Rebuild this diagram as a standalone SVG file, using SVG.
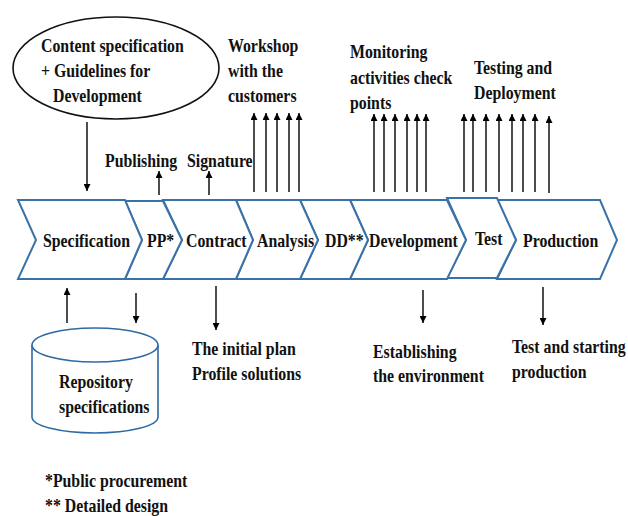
<svg xmlns="http://www.w3.org/2000/svg" width="628" height="516" viewBox="0 0 628 516">
<defs>
<marker id="ah" viewBox="0 0 10 10" refX="10" refY="5" markerWidth="7" markerHeight="7" markerUnits="userSpaceOnUse" orient="auto">
<path d="M0,0 L10,5 L0,10 z" fill="#000"/>
</marker>
<style>
text{font-family:"Liberation Serif","Times New Roman",serif;font-weight:bold;font-size:18px;fill:#111;transform-box:fill-box;transform-origin:0% 50%;transform:scaleX(0.88)}
.chev{fill:#fff;stroke:#3a72a8;stroke-width:2;stroke-linejoin:miter}
.shape{fill:#fff;stroke:#2f6aa3;stroke-width:1.6}
.oval{fill:#fff;stroke:#111;stroke-width:1.6}
.arr{stroke:#000;stroke-width:1.4;fill:none;marker-end:url(#ah)}
</style>
</defs>
<rect width="628" height="516" fill="#fff"/>

<g id="content-spec">
<ellipse class="oval" cx="116" cy="68" rx="103" ry="51"/>
<text x="41" y="52">Content specification</text>
<text x="41" y="77">+ Guidelines for</text>
<text x="53" y="102">Development</text>
</g>

<g id="workshop-label">
<text x="228" y="52">Workshop</text>
<text x="228" y="77">with the</text>
<text x="228" y="102">customers</text>
</g>

<g id="monitoring-label">
<text x="350" y="58">Monitoring</text>
<text x="350" y="84">activities check</text>
<text x="350" y="109">points</text>
</g>

<g id="testing-label">
<text x="474" y="74">Testing and</text>
<text x="474" y="99">Deployment</text>
</g>

<g id="publishing-label"><text x="105" y="167">Publishing</text></g>
<g id="signature-label"><text x="187" y="167">Signature</text></g>

<g id="chevrons">
<g id="production"><path class="chev" d="M497,200 L600,200 L617,240 L600,279 L497,279 L516,240 Z"/><text x="523" y="247">Production</text></g>
<g id="test"><path class="chev" d="M447,198 L497,198 L516,240 L497,278 L447,278 L466,240 Z" stroke-width="2.5"/><text x="475" y="245">Test</text></g>
<g id="development"><path class="chev" d="M350,200 L447,200 L466,240 L447,279 L350,279 L368,240 Z"/><text x="369" y="247">Development</text></g>
<g id="dd"><path class="chev" d="M300,200 L350,200 L368,240 L350,279 L300,279 L318,240 Z" stroke-width="2.5"/><text x="325" y="247">DD**</text></g>
<g id="analysis"><path class="chev" d="M236,200 L300,200 L318,240 L300,279 L236,279 L253,240 Z"/><text x="257" y="247">Analysis</text></g>
<g id="contract"><path class="chev" d="M163,200 L236,200 L253,240 L236,279 L163,279 L182,240 Z"/><text x="186" y="247">Contract</text></g>
<g id="pp"><path class="chev" d="M125,201 L163,201 L182,240 L163,279 L125,279 L142,240 Z"/><text x="147" y="247">PP*</text></g>
<g id="specification"><path class="chev" d="M18,200 L125,200 L142,240 L125,279 L18,279 L36,240 Z"/><text x="43" y="247">Specification</text></g>
</g>

<g id="repository">
<path class="shape" d="M32,345 L32,417 A63,16 0 0 0 158,417 L158,345"/>
<ellipse class="shape" cx="95" cy="345" rx="63" ry="17"/>
<text x="59" y="388">Repository</text>
<text x="59" y="413">specifications</text>
</g>

<g id="initial-plan-label">
<text x="192" y="355">The initial plan</text>
<text x="192" y="380">Profile solutions</text>
</g>

<g id="establishing-label">
<text x="373" y="358">Establishing</text>
<text x="373" y="382">the environment</text>
</g>

<g id="starting-production-label">
<text x="512" y="353">Test and starting</text>
<text x="512" y="378">production</text>
</g>

<g id="footnotes">
<text x="45" y="487">*Public procurement</text>
<text x="45" y="512">** Detailed design</text>
</g>

<g id="connectors">
<line class="arr" x1="87" y1="122" x2="87" y2="191"/>
<line class="arr" x1="159" y1="195" x2="159" y2="171"/>
<line class="arr" x1="209" y1="195" x2="209" y2="171"/>
<line class="arr" x1="254" y1="192" x2="254" y2="113"/>
<line class="arr" x1="266" y1="192" x2="266" y2="113"/>
<line class="arr" x1="277" y1="192" x2="277" y2="113"/>
<line class="arr" x1="289" y1="192" x2="289" y2="113"/>
<line class="arr" x1="299" y1="192" x2="299" y2="113"/>
<line class="arr" x1="374" y1="192" x2="374" y2="114"/>
<line class="arr" x1="384" y1="192" x2="384" y2="114"/>
<line class="arr" x1="395" y1="192" x2="395" y2="114"/>
<line class="arr" x1="407" y1="192" x2="407" y2="114"/>
<line class="arr" x1="417" y1="192" x2="417" y2="114"/>
<line class="arr" x1="426" y1="192" x2="426" y2="114"/>
<line class="arr" x1="464" y1="192" x2="464" y2="114"/>
<line class="arr" x1="473" y1="192" x2="473" y2="114"/>
<line class="arr" x1="486" y1="192" x2="486" y2="114"/>
<line class="arr" x1="499" y1="192" x2="499" y2="114"/>
<line class="arr" x1="512" y1="192" x2="512" y2="114"/>
<line class="arr" x1="523" y1="192" x2="523" y2="114"/>
<line class="arr" x1="535" y1="192" x2="535" y2="114"/>
<line class="arr" x1="549" y1="193" x2="549" y2="116"/>
<line class="arr" x1="67" y1="323" x2="67" y2="288"/>
<line class="arr" x1="136" y1="293" x2="136" y2="323"/>
<line class="arr" x1="216" y1="286" x2="216" y2="330"/>
<line class="arr" x1="423" y1="290" x2="423" y2="323"/>
<line class="arr" x1="543" y1="287" x2="543" y2="325"/>
</g>
</svg>
